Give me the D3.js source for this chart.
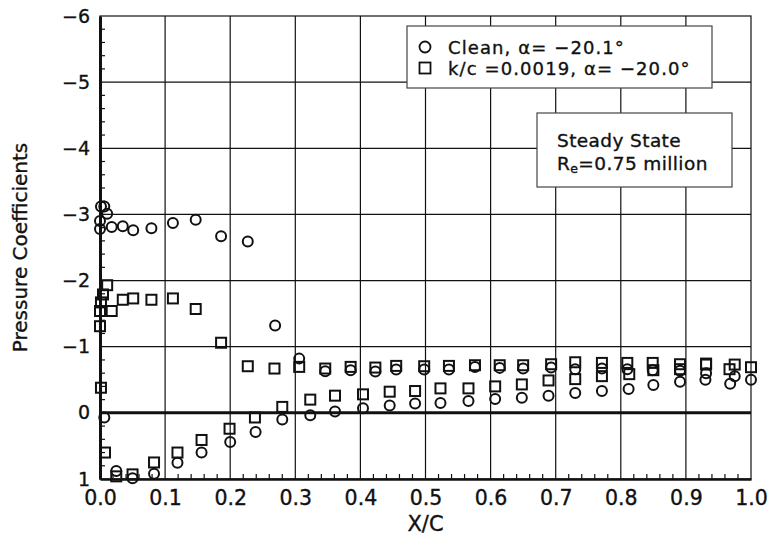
<!DOCTYPE html>
<html>
<head>
<meta charset="utf-8">
<script src="https://cdn.jsdelivr.net/npm/d3@7/dist/d3.min.js"></script>
<style>
  html, body { margin: 0; padding: 0; background: #fff; }
  svg { display: block; font-family: "DejaVu Sans", "Liberation Sans", sans-serif; }
  text { stroke: #111; stroke-width: 0.35px; }
</style>
</head>
<body>
<svg id="chart" width="774" height="545"></svg>
<script>
// ---------- data ----------
// Clean airfoil, alpha = -20.1 deg (circles)
const cleanX = [0.000, 0.000, 0.0015, 0.0066, 0.011, 0.018, 0.035, 0.051, 0.079, 0.112, 0.147, 0.186, 0.227, 0.269, 0.306,
  0.346, 0.385, 0.423, 0.455, 0.498, 0.536, 0.576, 0.614, 0.650, 0.693, 0.730, 0.771, 0.810, 0.849, 0.891, 0.931, 0.975, 1.000,
  0.0066, 0.025, 0.050, 0.083, 0.119, 0.156, 0.200, 0.239, 0.280, 0.323, 0.361, 0.404, 0.445, 0.484, 0.523, 0.566, 0.607,
  0.648, 0.689, 0.730, 0.771, 0.812, 0.850, 0.891, 0.930, 0.968];
const cleanCp = [-2.78, -2.90, -3.12, -3.12, -3.01, -2.81, -2.82, -2.76, -2.79, -2.87, -2.92, -2.67, -2.59, -1.32, -0.82,
  -0.63, -0.645, -0.625, -0.655, -0.655, -0.655, -0.695, -0.68, -0.67, -0.685, -0.66, -0.67, -0.66, -0.645, -0.635, -0.60, -0.555, -0.50,
  0.07, 0.88, 0.99, 0.92, 0.755, 0.60, 0.44, 0.29, 0.10, 0.035, -0.02, -0.07, -0.11, -0.14, -0.15, -0.18, -0.21,
  -0.23, -0.26, -0.30, -0.33, -0.36, -0.42, -0.47, -0.50, -0.44];

// Roughened airfoil, k/c = 0.0019, alpha = -20.0 deg (squares)
const roughX = [0.000, 0.000, 0.0015, 0.0046, 0.011, 0.018, 0.035, 0.051, 0.079, 0.112, 0.147, 0.186, 0.227, 0.268, 0.306,
  0.346, 0.385, 0.423, 0.455, 0.498, 0.536, 0.576, 0.614, 0.650, 0.693, 0.730, 0.771, 0.810, 0.849, 0.891, 0.931, 0.975, 1.000,
  0.0015, 0.0077, 0.025, 0.050, 0.083, 0.119, 0.156, 0.199, 0.238, 0.280, 0.323, 0.361, 0.404, 0.445, 0.484, 0.523, 0.566, 0.607,
  0.648, 0.689, 0.730, 0.771, 0.813, 0.850, 0.891, 0.931, 0.967];
const roughCp = [-1.31, -1.54, -1.67, -1.79, -1.93, -1.54, -1.71, -1.73, -1.71, -1.73, -1.57, -1.06, -0.705, -0.67, -0.695,
  -0.67, -0.695, -0.685, -0.71, -0.705, -0.71, -0.72, -0.72, -0.72, -0.735, -0.765, -0.755, -0.755, -0.755, -0.735, -0.745, -0.73, -0.69,
  -0.38, 0.60, 0.96, 0.93, 0.75, 0.60, 0.41, 0.24, 0.07, -0.09, -0.20, -0.26, -0.28, -0.32, -0.33, -0.37, -0.37, -0.40,
  -0.43, -0.49, -0.51, -0.555, -0.585, -0.645, -0.66, -0.73, -0.66];

const xTicks = [0, 0.1, 0.2, 0.3, 0.4, 0.5, 0.6, 0.7, 0.8, 0.9, 1.0];
const yTicks = [-6, -5, -4, -3, -2, -1, 0, 1];
const legendLabels = ["Clean, α= −20.1°", "k/c =0.0019, α= −20.0°"];
const noteLines = ["Steady State", "0.75 million"];

// ---------- layout ----------
const svg = d3.select("#chart");
const x = d3.scaleLinear().domain([0, 1]).range([100, 751]);
const y = d3.scaleLinear().domain([-6, 1]).range([16, 479]);
const ink = "#111";

// gridlines
const grid = svg.append("g");
grid.selectAll("line.v").data(xTicks.filter(d => d > 0 && d < 1)).join("line")
  .attr("x1", d => x(d)).attr("x2", d => x(d)).attr("y1", y(-6)).attr("y2", y(1))
  .attr("stroke", ink).attr("stroke-width", 1.2);
grid.selectAll("line.h").data(yTicks.filter(d => d > -6 && d < 1 && d !== 0)).join("line")
  .attr("x1", x(0)).attr("x2", x(1)).attr("y1", d => y(d)).attr("y2", d => y(d))
  .attr("stroke", ink).attr("stroke-width", 1.2);

// frame (top/right thin)
svg.append("rect").attr("x", x(0)).attr("y", y(-6)).attr("width", x(1) - x(0)).attr("height", y(1) - y(-6))
  .attr("fill", "none").attr("stroke", ink).attr("stroke-width", 1.2);

// zero line
svg.append("line").attr("x1", x(0)).attr("x2", x(1)).attr("y1", y(0)).attr("y2", y(0))
  .attr("stroke", ink).attr("stroke-width", 3);

// axes
const xAxis = d3.axisBottom(x).tickValues(xTicks).tickFormat(d3.format(".1f")).tickSize(0).tickPadding(11);
const gx = svg.append("g").attr("transform", `translate(0,${y(1)})`).call(xAxis);
gx.select(".domain").attr("stroke", ink).attr("stroke-width", 2.5);
gx.selectAll("text").attr("font-size", 20.5).attr("fill", ink).attr("font-family", "DejaVu Sans");

const yAxis = d3.axisLeft(y).tickValues(yTicks).tickFormat(d3.format("d")).tickSize(0).tickPadding(10);
const gy = svg.append("g").attr("transform", `translate(${x(0)},0)`).call(yAxis);
gy.select(".domain").attr("stroke", ink).attr("stroke-width", 3);
gy.selectAll("text").attr("font-size", 19).attr("fill", ink).attr("font-family", "DejaVu Sans");

// minor ticks
const xMinor = d3.range(0, 50).map(i => i * 0.02).filter(v => Math.round(v * 50) % 5 !== 0);
svg.append("g").selectAll("line").data(xMinor).join("line")
  .attr("x1", d => x(d)).attr("x2", d => x(d)).attr("y1", y(1)).attr("y2", y(1) - 5)
  .attr("stroke", ink).attr("stroke-width", 1.2);
const yMinor = d3.range(0, 35).map(i => -6 + i * 0.2).filter(v => Math.abs(v - Math.round(v)) > 1e-6);
svg.append("g").selectAll("line").data(yMinor).join("line")
  .attr("x1", x(0)).attr("x2", x(0) + 5).attr("y1", d => y(d)).attr("y2", d => y(d))
  .attr("stroke", ink).attr("stroke-width", 1.2);

// axis titles
svg.append("text").attr("x", x(0.5)).attr("y", 531).attr("text-anchor", "middle")
  .attr("font-size", 21).attr("fill", ink).text("X/C");
svg.append("text").attr("transform", `translate(27,${(y(-6) + y(1)) / 2}) rotate(-90)`)
  .attr("text-anchor", "middle").attr("font-size", 20).attr("fill", ink).text("Pressure Coefficients");

// markers
const clean = d3.zip(cleanX, cleanCp);
const rough = d3.zip(roughX, roughCp);
const marks = svg.append("g");
marks.selectAll("rect").data(rough).join("rect")
  .attr("x", d => x(d[0]) - 5).attr("y", d => y(d[1]) - 5).attr("width", 10).attr("height", 10)
  .attr("fill", "none").attr("stroke", ink).attr("stroke-width", 2);
marks.selectAll("circle").data(clean).join("circle")
  .attr("cx", d => x(d[0])).attr("cy", d => y(d[1])).attr("r", 5)
  .attr("fill", "none").attr("stroke", ink).attr("stroke-width", 2);

// legend
const lg = svg.append("g");
lg.append("rect").attr("x", 407).attr("y", 26).attr("width", 305).attr("height", 62)
  .attr("fill", "#fff").attr("stroke", "#444").attr("stroke-width", 1.2);
lg.append("circle").attr("cx", 425).attr("cy", 47).attr("r", 5.5)
  .attr("fill", "none").attr("stroke", ink).attr("stroke-width", 1.8);
lg.append("rect").attr("x", 419.5).attr("y", 62.5).attr("width", 11).attr("height", 11)
  .attr("fill", "none").attr("stroke", ink).attr("stroke-width", 1.8);
lg.selectAll("text").data(legendLabels).join("text")
  .attr("x", 448).attr("y", (d, i) => 53.5 + i * 21.5).attr("font-size", 18)
  .attr("letter-spacing", 1.1).attr("fill", ink).text(d => d);

// note box
const nb = svg.append("g");
nb.append("rect").attr("x", 537).attr("y", 113).attr("width", 195).attr("height", 74)
  .attr("fill", "#fff").attr("stroke", "#444").attr("stroke-width", 1.2);
nb.append("text").attr("x", 557).attr("y", 147).attr("font-size", 18.5)
  .attr("letter-spacing", 0.4).attr("fill", ink).text(noteLines[0]);
const t2 = nb.append("text").attr("x", 557).attr("y", 170).attr("font-size", 18.5)
  .attr("letter-spacing", 0.4).attr("fill", ink);
t2.append("tspan").text("R");
t2.append("tspan").attr("font-size", 12.5).attr("dy", 3).text("e");
t2.append("tspan").attr("dy", -3).text("=" + noteLines[1]);
</script>
</body>
</html>
